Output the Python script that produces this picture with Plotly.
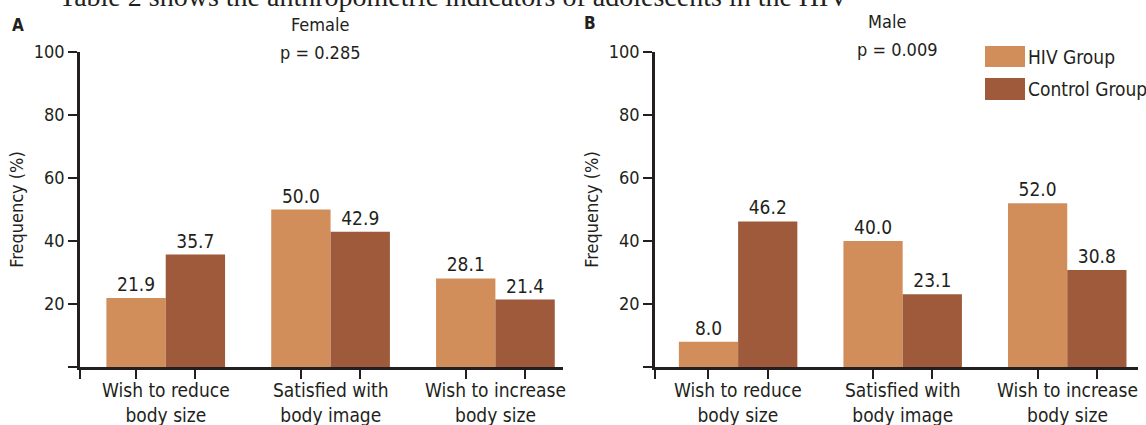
import plotly.graph_objects as go

categories = ["Wish to reduce<br>body size", "Satisfied with<br>body image", "Wish to increase<br>body size"]
female_hiv = [21.9, 50.0, 28.1]
female_control = [35.7, 42.9, 21.4]
male_hiv = [8.0, 40.0, 52.0]
male_control = [46.2, 23.1, 30.8]
yticks = [0, 20, 40, 60, 80, 100]
ytick_labels = ["", "20", "40", "60", "80", "100"]
series_names = ["HIV Group", "Control Group"]
colors = ["#D18E5B", "#9E5A3A"]

FONT = "Liberation Sans Narrow, DejaVu Sans Condensed, Roboto, sans-serif"
INK = "#231F20"
W, H = 1146, 425
TOP, BOT = 52, 367  # plot area in pixels
PH = BOT - TOP
half = 0.18
idx = list(range(len(categories)))


def vx(px):
    return px / W


def vy(py):
    return (BOT - py) / PH


fig = go.Figure()
panels = [
    ("x", "y", female_hiv, female_control),
    ("x2", "y2", male_hiv, male_control),
]
for xa, ya, hiv, ctl in panels:
    for vals, name, col, off in [(hiv, series_names[0], colors[0], -half), (ctl, series_names[1], colors[1], half)]:
        fig.add_trace(go.Bar(
            x=[i + off for i in idx], y=vals, width=2 * half, name=name,
            marker=dict(color=col, line=dict(width=0)),
            text=[f"{v:.1f}" for v in vals], textposition="outside",
            textfont=dict(family=FONT, size=19, color=INK),
            cliponaxis=False, showlegend=False, xaxis=xa, yaxis=ya,
        ))

left_a = -0.52
left_b = -0.505
tickpos_x = [i + o for i in idx for o in (-half, half)]

axis_common = dict(showline=True, linecolor=INK, linewidth=2.5, ticks="outside",
                   tickcolor=INK, tickwidth=2, ticklen=9, showgrid=False, zeroline=False,
                   automargin=False,
                   tickfont=dict(family=FONT, size=18, color=INK))

ytitle = dict(text="Frequency (%)", font=dict(family=FONT, size=18, color=INK), standoff=6)

fig.update_layout(
    width=W, height=H, margin=dict(l=0, r=0, t=TOP, b=H - BOT, autoexpand=False),
    paper_bgcolor="white", plot_bgcolor="white",
    barmode="overlay",
    xaxis=dict(domain=[vx(80), vx(563)], range=[left_a, 2.41], tickvals=[left_a] + tickpos_x,
               ticktext=[""] * 7, **axis_common),
    xaxis2=dict(domain=[vx(655), vx(1138)], range=[left_b, 2.43], tickvals=[left_b] + tickpos_x,
                ticktext=[""] * 7, anchor="y2", **axis_common),
    yaxis=dict(range=[0, 100], tickvals=yticks, ticktext=ytick_labels, title=ytitle, **axis_common),
    yaxis2=dict(range=[0, 100], tickvals=yticks, ticktext=ytick_labels, anchor="x2", title=ytitle,
                **axis_common),
)

ann = []
for xr in ["x", "x2"]:
    for i, c in enumerate(categories):
        ann.append(dict(x=i, y=vy(377), xref=xr, yref="paper", text=c, showarrow=False,
                        xanchor="center", yanchor="top",
                        font=dict(family=FONT, size=19, color=INK)))


def pix(px, py, txt, size, anchor="center", bold=False, family=FONT):
    return dict(x=vx(px), y=vy(py), xref="paper", yref="paper",
                text=f"<b>{txt}</b>" if bold else txt, showarrow=False, xanchor=anchor, yanchor="middle",
                font=dict(family=family, size=size, color=INK))


ann += [
    pix(320, 24, "Female", 18),
    pix(320, 52, "p = 0.285", 18),
    pix(887, 22, "Male", 18),
    pix(897, 49, "p = 0.009", 18),
    pix(10, 25, "A", 17, anchor="left", bold=True),
    pix(582, 23, "B", 17, anchor="left", bold=True),
    pix(1026, 57, series_names[0], 19, anchor="left"),
    pix(1026, 89, series_names[1], 19, anchor="left"),
    pix(57, -3, "Table 2 shows the anthropometric indicators of adolescents in the HIV", 28,
        anchor="left", family="Liberation Serif, DejaVu Serif, serif"),
]
fig.update_layout(annotations=ann)

shapes = []
for k, (y0, y1) in enumerate([(46, 67), (78, 100)]):
    shapes.append(dict(type="rect", xref="paper", yref="paper",
                       x0=vx(985), x1=vx(1025), y0=vy(y1), y1=vy(y0),
                       fillcolor=colors[k], line=dict(width=0)))
fig.update_layout(shapes=shapes)

fig.write_html("out.html", config={"displayModeBar": False},
               post_script="document.body.style.margin='0';document.documentElement.style.overflow='hidden';")
